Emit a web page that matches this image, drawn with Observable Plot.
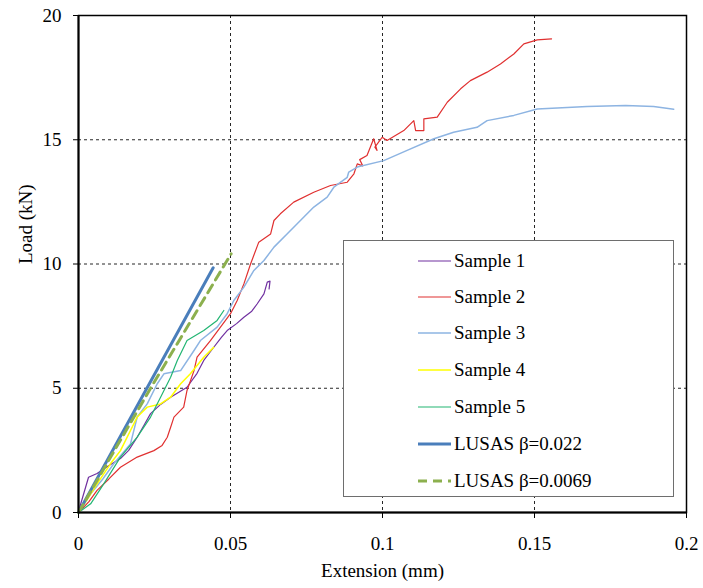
<!DOCTYPE html>
<html>
<head>
<meta charset="utf-8">
<script src="https://cdn.jsdelivr.net/npm/d3@7"></script>
<script src="https://cdn.jsdelivr.net/npm/@observablehq/plot@0.6"></script>
<style>
  html, body { margin: 0; padding: 0; background: #fff; }
  #wrap { position: relative; width: 703px; height: 588px; }
  #legend { position: absolute; left: 343px; top: 240px; width: 329px; height: 255px; background: #fff; border: 1.5px solid #6e6e6e; }
  .row { position: absolute; left: 0; height: 24px; display: flex; align-items: center; font-size: 19px; color: #000; white-space: nowrap; }
  .row svg { margin-left: 74px; margin-right: 3px; }
</style>
</head>
<body>
<div id="wrap"></div>
<script>
// ---- Data (Extension mm, Load kN) ----
const s1x = [0, 0.0005, 0.0033, 0.0061, 0.0095, 0.0138, 0.0165, 0.0193, 0.0215, 0.0237, 0.027, 0.0303, 0.0357, 0.039, 0.0412, 0.0445, 0.047, 0.0489, 0.052, 0.0544, 0.057, 0.0588, 0.061, 0.0621, 0.063, 0.0627];
const s1y = [0, 0.25, 1.42, 1.57, 1.85, 2.17, 2.5, 3.03, 3.5, 3.98, 4.35, 4.64, 5.04, 5.6, 6.12, 6.65, 7.05, 7.32, 7.6, 7.86, 8.1, 8.4, 8.8, 9.27, 9.31, 9.0];

const s2x = [0, 0.0007, 0.0035, 0.0061, 0.01, 0.0138, 0.0193, 0.0248, 0.0275, 0.0292, 0.0305, 0.0314, 0.0346, 0.0357, 0.038, 0.039, 0.0434, 0.0467, 0.05, 0.0522, 0.0544, 0.0566, 0.0593, 0.0632, 0.0643, 0.0664, 0.0708, 0.0774, 0.0829, 0.0884, 0.0906, 0.0917, 0.0935, 0.0925, 0.0949, 0.0971, 0.0982, 0.0975, 0.0999, 0.1015, 0.107, 0.1103, 0.1109, 0.1136, 0.1136, 0.118, 0.1213, 0.1257, 0.1289, 0.1344, 0.1388, 0.1432, 0.1465, 0.1509, 0.1556];
const s2y = [0, 0.08, 0.45, 0.89, 1.35, 1.82, 2.23, 2.49, 2.7, 3.03, 3.5, 3.84, 4.24, 4.91, 5.71, 6.25, 6.92, 7.46, 8.0, 8.53, 9.2, 10.0, 10.88, 11.21, 11.75, 12.02, 12.49, 12.89, 13.16, 13.29, 13.63, 14.03, 13.95, 14.2, 14.37, 15.04, 14.57, 14.7, 15.1, 14.97, 15.37, 15.77, 15.37, 15.37, 15.84, 15.91, 16.51, 17.05, 17.38, 17.72, 18.05, 18.45, 18.86, 19.02, 19.06];

const s3x = [0, 0.004, 0.008, 0.0116, 0.0171, 0.0193, 0.0226, 0.0259, 0.0281, 0.0336, 0.038, 0.0401, 0.0456, 0.0489, 0.0511, 0.0544, 0.0577, 0.061, 0.0643, 0.0686, 0.073, 0.0774, 0.0818, 0.084, 0.0884, 0.0889, 0.0917, 0.1004, 0.1081, 0.1169, 0.1234, 0.1311, 0.1344, 0.1432, 0.1509, 0.1673, 0.1800, 0.1892, 0.1958];
const s3y = [0, 0.75, 1.35, 1.96, 2.76, 3.84, 4.37, 5.18, 5.58, 5.71, 6.52, 6.92, 7.46, 8.0, 8.53, 9.07, 9.74, 10.14, 10.68, 11.21, 11.75, 12.29, 12.69, 13.09, 13.49, 13.7, 13.9, 14.16, 14.57, 15.04, 15.3, 15.5, 15.77, 15.98, 16.24, 16.34, 16.38, 16.34, 16.23];

const s4x = [0, 0.003, 0.0061, 0.0105, 0.0138, 0.0171, 0.0193, 0.0226, 0.027, 0.0303, 0.0336, 0.0368, 0.0412, 0.0445];
const s4y = [0, 0.55, 1.15, 1.96, 2.49, 3.3, 3.84, 4.24, 4.37, 4.64, 5.18, 5.58, 6.25, 6.65];

const s5x = [0, 0.004, 0.0083, 0.0138, 0.0193, 0.0237, 0.027, 0.0303, 0.0325, 0.0357, 0.0412, 0.0456, 0.0478];
const s5y = [0, 0.35, 1.15, 2.23, 3.03, 3.84, 4.64, 5.44, 6.12, 6.92, 7.32, 7.73, 8.13];

const lusasAx = [0, 0.0443];
const lusasAy = [0, 9.85];
const lusasBx = [0, 0.0237, 0.0502];
const lusasBy = [0, 5.0, 10.41];

const seriesNames = ["Sample 1", "Sample 2", "Sample 3", "Sample 4", "Sample 5", "LUSAS β=0.022", "LUSAS β=0.0069"];
const xTicks = [0, 0.05, 0.1, 0.15, 0.2];
const yTicks = [0, 5, 10, 15, 20];
const xGrid = [0.05, 0.1, 0.15];
const yGrid = [5, 10, 15];

// ---- Font pick ----
function pickFont(cands) {
  const ctx = document.createElement("canvas").getContext("2d");
  const t = "Extension (mm) Sample LUSAS 0.05";
  for (const f of cands) {
    let ok = true;
    for (const base of ["monospace", "sans-serif"]) {
      ctx.font = `20px ${base}`;
      const w0 = ctx.measureText(t).width;
      ctx.font = `20px "${f}", ${base}`;
      const w1 = ctx.measureText(t).width;
      if (Math.abs(w1 - w0) < 0.01) ok = false;
    }
    if (ok) return `"${f}", serif`;
  }
  return "serif";
}
const FONT = pickFont(["Liberation Serif", "Tinos", "Times New Roman", "Times", "Nimbus Roman", "DejaVu Serif"]);

// ---- Build ----
const toRows = (xs, ys) => xs.map((x, i) => ({x, y: ys[i]}));
const styles = [
  {stroke: "#7030A0", strokeWidth: 1.2},
  {stroke: "#E03030", strokeWidth: 1.2},
  {stroke: "#8DB4E2", strokeWidth: 1.5},
  {stroke: "#FFFF00", strokeWidth: 1.5},
  {stroke: "#22B573", strokeWidth: 1.2},
  {stroke: "#4A7EBB", strokeWidth: 3},
  {stroke: "#8CB04E", strokeWidth: 3, strokeDasharray: "9,6"}
];
const data = [
  toRows(s1x, s1y), toRows(s2x, s2y), toRows(s3x, s3y), toRows(s4x, s4y), toRows(s5x, s5y),
  toRows(lusasAx, lusasAy), toRows(lusasBx, lusasBy)
];

const chart = Plot.plot({
  width: 703,
  height: 588,
  marginLeft: 78,
  marginRight: 17,
  marginTop: 15,
  marginBottom: 76,
  style: {fontFamily: FONT, fontSize: "19px", color: "#000", background: "#fff"},
  x: {domain: [0, 0.2]},
  y: {domain: [0, 20]},
  marks: [
    Plot.ruleX(xGrid, {stroke: "#000", strokeWidth: 1, strokeDasharray: "3,3", strokeOpacity: 0.85}),
    Plot.ruleY(yGrid, {stroke: "#000", strokeWidth: 1, strokeDasharray: "3,3", strokeOpacity: 0.85}),
    Plot.frame({stroke: "#000", strokeWidth: 1.5}),
    ...data.map((d, i) => Plot.line(d, {x: "x", y: "y", ...styles[i]})),
    Plot.ruleX([0], {stroke: "#000", strokeWidth: 2}),
    Plot.ruleY([0], {stroke: "#000", strokeWidth: 2}),
    Plot.axisX({ticks: xTicks, tickFormat: d => String(d), tickSize: 6, tickPadding: 18, label: null, stroke: "#000", fontSize: 19, fontFamily: FONT}),
    Plot.axisY({ticks: yTicks, tickFormat: d => String(d), tickSize: 5, tickPadding: 12, label: null, stroke: "#000", fontSize: 19, fontFamily: FONT}),
    Plot.text(["Load (kN)"], {frameAnchor: "left", dx: -53, rotate: -90, fontSize: 19, fontFamily: FONT, fill: "#000"}),
    Plot.text(["Extension (mm)"], {frameAnchor: "bottom", dy: 64, fontSize: 19, fontFamily: FONT, fill: "#000"})
  ]
});

const wrap = document.getElementById("wrap");
wrap.style.fontFamily = FONT;
wrap.appendChild(chart);

// Legend (HTML overlay)
const legend = document.createElement("div");
legend.id = "legend";
const rowTops = [20, 56, 92, 129, 166, 203, 240];
seriesNames.forEach((name, i) => {
  const row = document.createElement("div");
  row.className = "row";
  row.style.top = (rowTops[i] - 12) + "px";
  row.style.fontFamily = FONT;
  const st = styles[i];
  const sw = `<svg width="33" height="10"><line x1="0" y1="5" x2="33" y2="5" stroke="${st.stroke}" stroke-width="${Math.min(st.strokeWidth, 3)}" ${st.strokeDasharray ? `stroke-dasharray="${st.strokeDasharray}"` : ""}/></svg>`;
  row.innerHTML = sw + `<span>${name}</span>`;
  legend.appendChild(row);
});
wrap.appendChild(legend);
</script>
</body>
</html>
